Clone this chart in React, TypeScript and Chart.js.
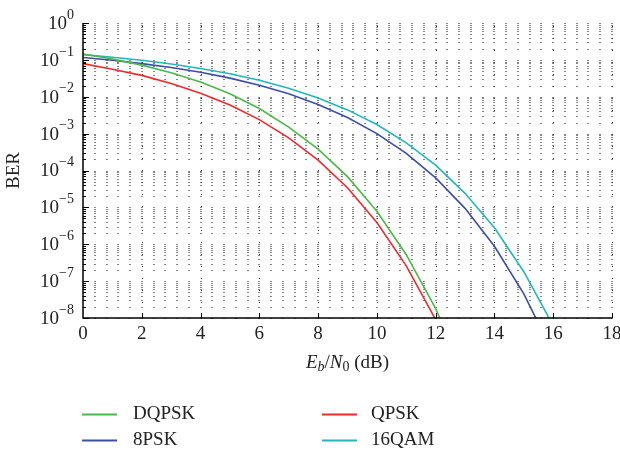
import { useEffect, useRef } from 'react';
import { Chart, registerables } from 'chart.js';

Chart.register(...registerables);

// ---- data ----
const ebn0Short = [0, 1, 2, 3, 4, 5, 6, 7, 8, 9, 10, 11, 12, 13];
const ebn0Long = [0, 1, 2, 3, 4, 5, 6, 7, 8, 9, 10, 11, 12, 13, 14, 15, 16];

const berDQPSK = [0.145, 0.106, 0.072, 0.045, 0.025, 0.012, 4.8e-3, 1.5e-3, 3.8e-4, 6.8e-5, 7.8e-6, 5.2e-7, 1.8e-8, 2.6e-10];
const berQPSK = [7.9e-2, 5.6e-2, 3.8e-2, 2.3e-2, 1.25e-2, 6.0e-3, 2.4e-3, 7.7e-4, 1.9e-4, 3.4e-5, 3.9e-6, 2.6e-7, 9.0e-9, 1.3e-10];
const ber8PSK = [0.116, 0.098, 0.079, 0.062, 0.046, 0.032, 0.0205, 0.012, 6.2e-3, 2.75e-3, 1.0e-3, 2.9e-4, 6.3e-5, 9.4e-6, 8.8e-7, 4.5e-8, 1.1e-9];
const ber16QAM = [0.139, 0.118, 0.0975, 0.0775, 0.0586, 0.042, 0.028, 0.017, 9.2e-3, 4.4e-3, 1.76e-3, 5.6e-4, 1.39e-4, 2.4e-5, 2.8e-6, 1.8e-7, 6.2e-9];

const seriesLabels = ['DQPSK', 'QPSK', '8PSK', '16QAM'];
const xMin = 0;
const xMax = 18;
const xTickStep = 2;
const xMinorStep = 0.4;
const yExponents = [0, -1, -2, -3, -4, -5, -6, -7, -8];

// ---- styles ----
const FONT = "'Liberation Serif', 'DejaVu Serif', 'Times New Roman', serif";
const COLORS = ['#4cb848', '#ec2a2d', '#3b4ea4', '#22b6b8'];
const TEXT = '#222222';

const gridPlugin = {
  id: 'matlabGrid',
  beforeDatasetsDraw(chart: any) {
    const { ctx, chartArea, scales } = chart;
    const x = scales.x;
    const y = scales.y;
    ctx.save();
    const yVals: number[] = [];
    for (const e of yExponents) {
      if (e === 0) { yVals.push(1); continue; }
      for (let k = 1; k <= 9; k++) yVals.push(k * Math.pow(10, e));
    }
    const nMinor = Math.round((xMax - xMin) / xMinorStep);
    for (let i = 1; i <= nMinor; i++) {
      const xv = xMin + i * xMinorStep;
      const px = Math.round(x.getPixelForValue(xv));
      ctx.fillStyle = '#858585';
      for (const yv of yVals) {
        const py = Math.round(y.getPixelForValue(yv));
        ctx.fillRect(px - 1, py, 2, 1);
      }
    }
    // major vertical dotted lines
    ctx.fillStyle = '#333333';
    for (let xv = xMin + xTickStep; xv <= xMax + 1e-9; xv += xTickStep) {
      const px = Math.round(x.getPixelForValue(xv));
      for (let py = chartArea.top + 3; py < chartArea.bottom; py += 12) {
        ctx.fillRect(px, py, 1, 1);
      }
    }
    ctx.restore();
  },
  afterDraw(chart: any) {
    const { ctx, chartArea, scales } = chart;
    const x = scales.x;
    const y = scales.y;
    ctx.save();
    // axes
    ctx.strokeStyle = '#000';
    ctx.lineWidth = 1.5;
    ctx.beginPath();
    ctx.moveTo(chartArea.left, chartArea.top);
    ctx.lineTo(chartArea.left, chartArea.bottom);
    ctx.lineTo(chartArea.right, chartArea.bottom);
    ctx.stroke();
    ctx.lineWidth = 1;
    ctx.beginPath();
    for (const e of yExponents) {
      const py = Math.round(y.getPixelForValue(Math.pow(10, e))) + 0.5;
      ctx.moveTo(chartArea.left, py);
      ctx.lineTo(chartArea.left + 6, py);
      if (e === 0) continue;
      for (let k = 2; k <= 9; k++) {
        const pm = Math.round(y.getPixelForValue(k * Math.pow(10, e))) + 0.5;
        ctx.moveTo(chartArea.left, pm);
        ctx.lineTo(chartArea.left + 3, pm);
      }
    }
    for (let xv = xMin + xTickStep; xv <= xMax + 1e-9; xv += xTickStep) {
      const px = Math.round(x.getPixelForValue(xv)) + 0.5;
      ctx.moveTo(px, chartArea.bottom);
      ctx.lineTo(px, chartArea.bottom - 5);
    }
    ctx.stroke();

    // y tick labels 10^n
    ctx.fillStyle = TEXT;
    ctx.textBaseline = 'middle';
    ctx.textAlign = 'left';
    const rightEdge = chartArea.left - 9;
    for (const e of yExponents) {
      const py = y.getPixelForValue(Math.pow(10, e));
      const expText = e === 0 ? '0' : '\u2212' + String(-e);
      ctx.font = `14px ${FONT}`;
      const wExp = ctx.measureText(expText).width;
      ctx.font = `19px ${FONT}`;
      const wBase = ctx.measureText('10').width;
      ctx.fillText('10', rightEdge - wExp - wBase, py + 1);
      ctx.font = `14px ${FONT}`;
      ctx.fillText(expText, rightEdge - wExp, py - 8);
    }

    // x axis title: E_b/N_0 (dB)
    const parts = [
      { t: 'E', f: `italic 19px ${FONT}`, dy: 0 },
      { t: 'b', f: `italic 14px ${FONT}`, dy: 4 },
      { t: '/', f: `19px ${FONT}`, dy: 0 },
      { t: 'N', f: `italic 19px ${FONT}`, dy: 0 },
      { t: '0', f: `14px ${FONT}`, dy: 4 },
      { t: ' (dB)', f: `19px ${FONT}`, dy: 0 },
    ];
    let total = 0;
    for (const p of parts) { ctx.font = p.f; total += ctx.measureText(p.t).width; }
    let cx = (chartArea.left + chartArea.right) / 2 - total / 2;
    const ty = 363;
    for (const p of parts) {
      ctx.font = p.f;
      ctx.fillText(p.t, cx, ty + p.dy);
      cx += ctx.measureText(p.t).width;
    }

    // legend (2 columns)
    const colX = [82, 322];
    const rowY = [414, 440];
    chart.data.datasets.forEach((ds: any, i: number) => {
      const lx = colX[i % 2];
      const ly = rowY[Math.floor(i / 2)];
      ctx.strokeStyle = ds.borderColor;
      ctx.lineWidth = 2;
      ctx.beginPath();
      ctx.moveTo(lx, ly + 0.5);
      ctx.lineTo(lx + 35, ly + 0.5);
      ctx.stroke();
      ctx.font = `19px ${FONT}`;
      ctx.fillStyle = TEXT;
      ctx.fillText(ds.label, lx + (i % 2 === 0 ? 51 : 49), ly);
    });
    ctx.restore();
  },
};

export default function App() {
  const ref = useRef<HTMLCanvasElement>(null);
  useEffect(() => {
    const canvas = ref.current;
    if (!canvas) return;
    const mk = (xs: number[], ys: number[]) => xs.map((xv, i) => ({ x: xv, y: ys[i] }));
    const chart = new Chart(canvas, {
      type: 'line',
      data: {
        datasets: [
          { label: seriesLabels[0], data: mk(ebn0Short, berDQPSK), borderColor: COLORS[0] },
          { label: seriesLabels[1], data: mk(ebn0Short, berQPSK), borderColor: COLORS[1] },
          { label: seriesLabels[2], data: mk(ebn0Long, ber8PSK), borderColor: COLORS[2] },
          { label: seriesLabels[3], data: mk(ebn0Long, ber16QAM), borderColor: COLORS[3] },
        ].map((d) => ({ ...d, borderWidth: 1.6, pointRadius: 0, tension: 0, fill: false })),
      },
      options: {
        animation: false,
        responsive: false,
        events: [],
        layout: { padding: { top: 23, right: 8, left: 0, bottom: 0 } },
        plugins: { legend: { display: false }, tooltip: { enabled: false } },
        scales: {
          x: {
            type: 'linear',
            min: xMin,
            max: xMax,
            grid: { display: false, drawTicks: false },
            border: { display: false },
            ticks: {
              stepSize: xTickStep,
              autoSkip: false,
              maxRotation: 0,
              padding: 5,
              color: TEXT,
              font: { family: FONT, size: 19 },
            },
            afterFit: (s: any) => { s.height = 136; s.paddingLeft = 0; s.paddingRight = 0; },
          },
          y: {
            type: 'logarithmic',
            min: 1e-8,
            max: 1,
            grid: { display: false, drawTicks: false },
            border: { display: false },
            ticks: { display: false },
            title: {
              display: true,
              text: 'BER',
              color: TEXT,
              font: { family: FONT, size: 19 },
              padding: { top: 3, bottom: 0 },
            },
            afterFit: (s: any) => { s.width = 83; },
          },
        },
      } as any,
      plugins: [gridPlugin],
    });
    return () => chart.destroy();
  }, []);
  return (
    <div style={{ position: 'absolute', left: 0, top: 0, width: 620, height: 454, background: '#fff' }}>
      <canvas ref={ref} width={620} height={454} style={{ display: 'block', width: 620, height: 454 }} />
    </div>
  );
}
